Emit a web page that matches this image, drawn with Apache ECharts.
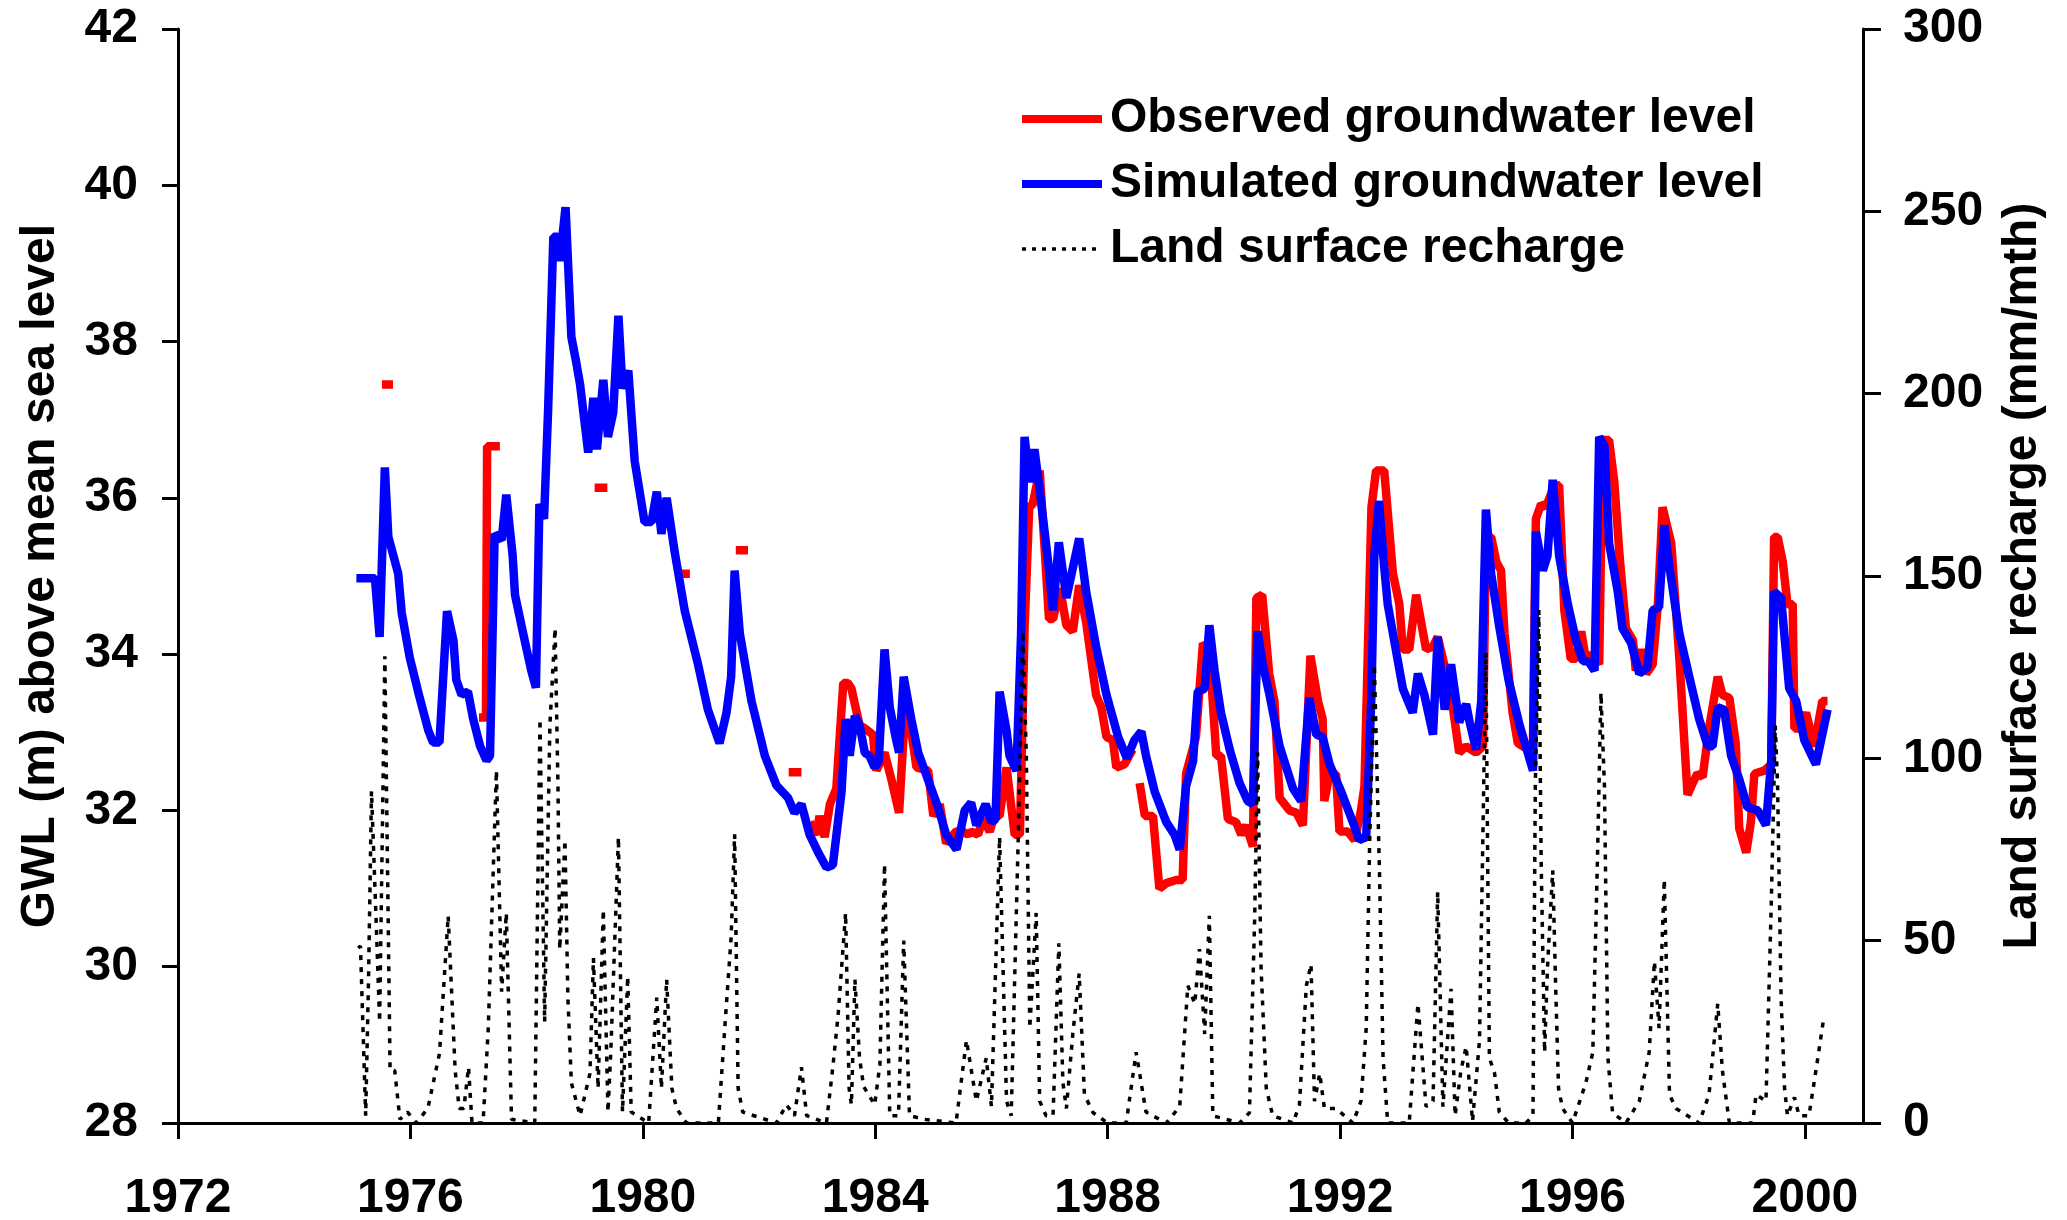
<!DOCTYPE html>
<html>
<head>
<meta charset="utf-8">
<title>Groundwater level and recharge</title>
<script src="https://cdn.jsdelivr.net/npm/echarts@6/dist/echarts.min.js"></script>
<style>
html,body{margin:0;padding:0;background:#fff}
#chart{width:2067px;height:1220px}
</style>
</head>
<body>
<div id="chart"></div>
<script>
// [decimal year, GWL m]
const simulated = [
    [1975.07,34.97],[1975.39,34.97],[1975.47,34.22],[1975.56,36.39],[1975.62,35.50],[1975.79,35.03],
    [1975.85,34.53],[1975.99,33.95],[1976.16,33.44],[1976.31,33.02],[1976.39,32.87],[1976.50,32.87],
    [1976.63,34.55],[1976.74,34.18],[1976.79,33.67],[1976.88,33.48],[1976.99,33.52],[1977.08,33.17],
    [1977.20,32.82],[1977.31,32.64],[1977.37,32.70],[1977.45,35.54],[1977.57,35.46],[1977.65,36.04],
    [1977.76,35.26],[1977.80,34.76],[1977.91,34.37],[1978.00,34.06],[1978.08,33.79],[1978.16,33.57],
    [1978.22,35.92],[1978.30,35.73],[1978.37,37.13],[1978.46,39.34],[1978.54,39.34],[1978.57,39.03],
    [1978.67,39.72],[1978.77,38.06],[1978.85,37.75],[1978.92,37.45],[1979.06,36.58],[1979.15,37.28],
    [1979.21,36.62],[1979.32,37.51],[1979.40,36.78],[1979.49,37.09],[1979.58,38.33],[1979.65,37.40],
    [1979.75,37.63],[1979.86,36.47],[1980.03,35.69],[1980.15,35.69],[1980.24,36.08],[1980.32,35.54],
    [1980.41,36.00],[1980.55,35.30],[1980.72,34.56],[1980.95,33.87],[1981.12,33.29],[1981.32,32.86],
    [1981.44,33.25],[1981.52,33.71],[1981.58,35.07],[1981.67,34.26],[1981.87,33.40],[1982.10,32.70],
    [1982.30,32.32],[1982.50,32.16],[1982.61,31.97],[1982.73,32.08],[1982.87,31.69],[1983.02,31.46],
    [1983.16,31.27],[1983.27,31.30],[1983.42,32.24],[1983.49,33.17],[1983.56,32.70],[1983.65,33.21],
    [1983.73,33.09],[1983.82,32.74],[1983.90,32.70],[1983.99,32.55],[1984.06,32.63],[1984.16,34.06],
    [1984.25,33.32],[1984.35,32.94],[1984.41,32.74],[1984.49,33.71],[1984.62,33.17],[1984.74,32.74],
    [1984.91,32.39],[1985.08,32.04],[1985.22,31.69],[1985.40,31.50],[1985.54,32.00],[1985.65,32.10],
    [1985.74,31.81],[1985.90,32.08],[1986.00,31.85],[1986.07,31.89],[1986.14,33.52],[1986.26,33.02],
    [1986.31,32.70],[1986.43,32.51],[1986.51,34.26],[1986.57,36.78],[1986.66,36.20],[1986.74,36.62],
    [1986.83,36.10],[1986.97,35.22],[1987.06,34.56],[1987.16,35.43],[1987.29,34.72],[1987.51,35.48],
    [1987.63,34.80],[1987.80,34.10],[1987.98,33.48],[1988.18,32.94],[1988.33,32.67],[1988.46,32.90],
    [1988.58,33.01],[1988.66,32.70],[1988.81,32.24],[1989.01,31.85],[1989.15,31.69],[1989.24,31.50],
    [1989.35,32.31],[1989.47,32.63],[1989.55,33.52],[1989.67,33.56],[1989.75,34.37],[1989.84,33.79],
    [1989.95,33.25],[1990.10,32.78],[1990.27,32.35],[1990.41,32.12],[1990.50,32.08],[1990.58,34.29],
    [1990.67,33.87],[1990.78,33.50],[1990.96,32.82],[1991.19,32.28],[1991.33,32.12],[1991.47,33.44],
    [1991.59,32.97],[1991.70,32.94],[1991.82,32.59],[1992.02,32.24],[1992.22,31.85],[1992.33,31.62],
    [1992.45,31.66],[1992.54,33.48],[1992.59,35.26],[1992.67,35.96],[1992.76,35.11],[1992.82,34.64],
    [1992.94,34.14],[1993.08,33.56],[1993.25,33.25],[1993.34,33.75],[1993.45,33.48],[1993.60,32.97],
    [1993.68,34.22],[1993.80,33.29],[1993.91,33.87],[1994.05,33.13],[1994.17,33.36],[1994.23,33.13],
    [1994.34,32.78],[1994.43,33.40],[1994.51,35.85],[1994.60,35.03],[1994.74,34.35],[1994.90,33.67],
    [1995.09,33.09],[1995.32,32.51],[1995.37,35.57],[1995.49,35.07],[1995.57,35.26],[1995.66,36.23],
    [1995.77,35.26],[1995.92,34.64],[1996.06,34.18],[1996.18,33.91],[1996.27,33.91],[1996.38,33.79],
    [1996.46,36.78],[1996.55,36.66],[1996.63,35.42],[1996.78,34.80],[1996.86,34.33],[1997.01,34.14],
    [1997.15,33.75],[1997.29,33.83],[1997.38,34.56],[1997.49,34.60],[1997.58,35.65],[1997.67,35.11],
    [1997.84,34.26],[1998.01,33.71],[1998.18,33.17],[1998.33,32.82],[1998.41,32.82],[1998.50,33.32],
    [1998.61,33.29],[1998.73,32.70],[1998.87,32.40],[1999.01,32.04],[1999.19,32.00],[1999.33,31.81],
    [1999.42,32.63],[1999.47,34.80],[1999.59,34.72],[1999.73,33.56],[1999.85,33.40],[1999.99,32.90],
    [2000.19,32.59],[2000.39,33.29]
]

// early observations are short isolated pieces
const observedEarly = [
    [[1975.51,37.45],[1975.70,37.45]],
    [[1977.18,33.19],[1977.30,33.19],[1977.32,36.66],[1977.54,36.66]],
    [[1979.17,36.13],[1979.39,36.13]],
    [[1980.67,35.03],[1980.81,35.03]],
    [[1981.60,35.33],[1981.81,35.33]],
    [[1982.51,32.49],[1982.73,32.49]]
]

const observedA = [
    [1982.87,31.85],[1982.99,31.69],[1983.04,31.93],[1983.13,31.66],[1983.22,32.08],[1983.33,32.28],
    [1983.45,33.63],[1983.53,33.63],[1983.59,33.56],[1983.73,33.09],[1983.82,33.05],[1983.96,32.97],
    [1984.02,32.51],[1984.16,32.74],[1984.28,32.39],[1984.41,31.97],[1984.51,33.25],[1984.62,33.01],
    [1984.71,32.55],[1984.91,32.51],[1985.00,31.93],[1985.11,32.08],[1985.22,31.58],[1985.39,31.73],
    [1985.51,31.73],[1985.60,31.69],[1985.65,31.73],[1985.77,31.69],[1985.85,31.89],[1985.97,31.73],
    [1986.05,31.93],[1986.14,31.93],[1986.26,32.55],[1986.40,31.69],[1986.49,31.69],[1986.57,34.33],
    [1986.65,35.88],[1986.71,35.92],[1986.83,36.35],[1986.92,35.30],[1986.99,34.45],[1987.06,34.45],
    [1987.18,34.84],[1987.29,34.37],[1987.40,34.29],[1987.51,34.88],[1987.63,34.41],[1987.80,33.48],
    [1987.89,33.32],[1987.98,32.94],[1988.09,32.90],[1988.15,32.55],[1988.29,32.59],[1988.43,32.78]
]

const observedB = [
    [1988.55,32.35],[1988.64,31.93],[1988.78,31.93],[1988.89,31.00],[1989.01,31.07],[1989.18,31.11],
    [1989.29,31.11],[1989.35,32.47],[1989.52,32.94],[1989.64,34.14],[1989.75,34.06],[1989.87,32.70],
    [1989.95,32.70],[1990.07,31.89],[1990.21,31.85],[1990.30,31.69],[1990.38,31.81],[1990.50,31.54],
    [1990.56,34.72],[1990.66,34.76],[1990.78,33.75],[1990.87,33.40],[1990.96,32.16],[1991.13,32.00],
    [1991.25,31.97],[1991.36,31.81],[1991.49,33.98],[1991.62,33.40],[1991.70,33.17],[1991.73,32.12],
    [1991.82,32.47],[1991.93,32.47],[1991.99,31.73],[1992.13,31.73],[1992.25,31.62],[1992.36,32.00],
    [1992.42,32.31],[1992.54,35.88],[1992.62,36.35],[1992.76,36.35],[1992.91,35.03],[1993.02,34.64],
    [1993.08,34.06],[1993.19,34.06],[1993.31,34.76],[1993.48,34.06],[1993.60,34.10],[1993.68,34.22],
    [1993.77,33.94],[1993.91,33.48],[1994.05,32.74],[1994.17,32.82],[1994.34,32.74],[1994.46,32.82],
    [1994.51,35.50],[1994.60,35.50],[1994.69,35.18],[1994.77,35.07],[1994.83,34.26],[1994.97,33.25],
    [1995.06,32.86],[1995.23,32.78],[1995.32,32.86],[1995.37,35.73],[1995.46,35.92],[1995.54,35.88],
    [1995.69,36.16],[1995.77,36.16],[1995.86,34.56],[1995.97,33.94],[1996.06,33.94],[1996.15,34.29],
    [1996.23,33.94],[1996.32,34.00],[1996.46,33.87],[1996.52,36.74],[1996.63,36.74],[1996.72,36.20],
    [1996.81,35.26],[1996.92,34.33],[1997.04,34.18],[1997.09,33.79],[1997.18,34.06],[1997.27,33.75],
    [1997.38,33.87],[1997.47,34.64],[1997.55,35.88],[1997.70,35.42],[1997.84,33.94],[1997.98,32.20],
    [1998.07,32.35],[1998.15,32.47],[1998.24,32.43],[1998.35,33.05],[1998.50,33.71],[1998.58,33.48],
    [1998.70,33.44],[1998.81,32.86],[1998.87,31.77],[1998.99,31.46],[1999.07,31.85],[1999.13,32.47],
    [1999.30,32.51],[1999.42,32.59],[1999.47,35.50],[1999.53,35.50],[1999.62,35.18],[1999.70,34.64],
    [1999.79,34.64],[1999.82,33.05],[1999.90,33.05],[2000.02,33.25],[2000.16,32.82],[2000.30,33.40],
    [2000.39,33.40]
]

// [decimal year, recharge mm/mth]
const recharge = [
    [1975.10,48],[1975.14,48.5],[1975.23,2],[1975.28,40],[1975.33,91],[1975.40,60],[1975.47,27.7],
    [1975.56,128],[1975.65,14.4],[1975.73,14.4],[1975.82,1],[1975.95,3],[1976.10,0],[1976.30,4],
    [1976.50,19],[1976.65,56.8],[1976.77,14.4],[1976.84,4],[1976.92,4],[1977.00,15.3],[1977.06,0],
    [1977.25,0],[1977.34,26],[1977.48,96.7],[1977.57,36],[1977.65,57.6],[1977.74,1],[1978.14,0],
    [1978.23,110.8],[1978.31,27.7],[1978.40,109],[1978.49,135.7],[1978.54,92],[1978.57,47.6],
    [1978.66,77.6],[1978.71,34.4],[1978.77,11],[1978.92,2],[1979.09,13.6],[1979.15,45.2],[1979.23,9.5],
    [1979.32,58.5],[1979.40,3],[1979.45,20],[1979.58,78.4],[1979.65,3],[1979.74,40.2],[1979.80,3],
    [1980.10,0],[1980.24,34.4],[1980.32,9.5],[1980.41,39.4],[1980.50,9.5],[1980.58,4],[1980.75,0],
    [1981.30,0],[1981.41,26],[1981.52,51],[1981.58,79.2],[1981.64,9.5],[1981.72,3],[1982.30,0],
    [1982.47,5],[1982.61,2],[1982.73,15.3],[1982.82,2],[1983.16,0],[1983.27,15.3],[1983.36,29.4],
    [1983.49,57.6],[1983.55,9.5],[1983.59,5],[1983.65,39.4],[1983.73,17.8],[1983.80,10],[1983.99,5],
    [1984.08,16],[1984.16,71],[1984.25,2],[1984.40,2],[1984.49,50],[1984.59,2],[1984.85,1],
    [1985.39,0],[1985.57,22.7],[1985.74,6],[1985.91,17.8],[1986.00,4.5],[1986.14,78.4],[1986.26,6],
    [1986.34,2],[1986.46,77.5],[1986.54,134.9],[1986.60,100.8],[1986.66,26],[1986.77,57.6],
    [1986.83,6],[1986.94,2],[1987.06,2],[1987.16,49.3],[1987.23,11],[1987.29,4],[1987.40,24.4],
    [1987.51,41],[1987.60,7.8],[1987.75,2.8],[1988.00,0],[1988.32,0],[1988.49,19.4],[1988.66,3],
    [1989.01,0],[1989.24,4.5],[1989.38,37.7],[1989.50,32.7],[1989.58,47.7],[1989.67,24.4],
    [1989.75,56.8],[1989.81,2],[1990.27,0],[1990.44,2.8],[1990.53,56],[1990.58,101.6],[1990.64,42.7],
    [1990.73,9.5],[1990.84,2],[1991.19,0],[1991.30,5],[1991.42,37.7],[1991.50,43.5],[1991.56,6],
    [1991.65,13.6],[1991.73,4],[1991.93,4],[1992.22,0],[1992.36,6],[1992.45,26],[1992.51,77.5],
    [1992.59,125.7],[1992.68,67.6],[1992.74,17.8],[1992.82,0],[1993.19,0],[1993.34,32.7],
    [1993.48,4.5],[1993.60,6],[1993.68,63.4],[1993.77,4.5],[1993.91,36.8],[1993.98,2],[1994.08,14.4],
    [1994.17,21],[1994.28,0.5],[1994.40,22.7],[1994.51,129],[1994.57,17.8],[1994.66,13.6],
    [1994.74,3],[1994.90,0],[1995.20,0],[1995.32,2],[1995.36,92.5],[1995.42,140.7],[1995.46,72.6],
    [1995.52,19.4],[1995.57,42.7],[1995.66,69.3],[1995.71,37.7],[1995.76,9.5],[1995.83,4],
    [1996.00,0],[1996.23,11],[1996.35,19.4],[1996.43,72.6],[1996.49,118],[1996.55,92.5],
    [1996.61,17.8],[1996.69,2.8],[1996.92,0],[1997.15,6],[1997.32,19.4],[1997.41,44.3],[1997.49,26],
    [1997.58,66.8],[1997.67,7.8],[1997.78,4],[1998.18,0],[1998.35,7.8],[1998.50,32.7],[1998.58,14.4],
    [1998.70,0],[1999.10,0],[1999.16,7.8],[1999.33,6],[1999.42,59.3],[1999.49,109],[1999.53,92.5],
    [1999.59,34.4],[1999.65,9.5],[1999.70,2],[1999.82,7],[1999.90,2],[2000.07,2],[2000.19,14.4],
    [2000.33,29.4]
]

const yearTicks = [1972, 1976, 1980, 1984, 1988, 1992, 1996, 2000]

// join observed pieces, null breaks the line
let observed = []
observedEarly.concat([observedA, observedB]).forEach(function (seg) {
    seg.forEach(function (p) { observed.push(p) })
    observed.push([seg[seg.length - 1][0] + 0.01, null])
})

const font = 'Liberation Sans'
const labelStyle = {color: '#000', fontSize: 48, fontWeight: 'bold', fontFamily: font}
const axisLine = {show: true, lineStyle: {color: '#000', width: 3}}

let chart = echarts.init(document.getElementById('chart'))
let option = {
    animation: false,
    backgroundColor: '#fff',
    grid: {left: 178, right: 204, top: 29, bottom: 97, outerBoundsMode: 'none'},
    legend: {
        orient: 'vertical',
        left: 1013,
        top: 90,
        itemWidth: 80,
        itemHeight: 14,
        itemGap: 17,
        align: 'left',
        selectedMode: false,
        itemStyle: {opacity: 0},
        textStyle: {color: '#000', fontSize: 48, fontWeight: 'bold', fontFamily: font, padding: [0, 0, 0, 3]},
        data: [
            {name: 'Observed groundwater level', lineStyle: {width: 8, color: '#ff0000'}},
            {name: 'Simulated groundwater level', lineStyle: {width: 8, color: '#0000ff'}},
            {name: 'Land surface recharge', lineStyle: {width: 3.5, type: [4, 6]}}
        ]
    },
    xAxis: {
        type: 'value',
        min: 1972,
        max: 2001,
        interval: 4,
        axisLine: axisLine,
        axisTick: {show: true, inside: false, length: 16, lineStyle: {width: 3, color: '#000'}, customValues: yearTicks},
        axisLabel: Object.assign({
            margin: 52,
            customValues: yearTicks,
            formatter: function (v) { return String(v) }
        }, labelStyle),
        splitLine: {show: false}
    },
    yAxis: [{
        type: 'value',
        min: 28,
        max: 42,
        interval: 2,
        name: 'GWL (m) above mean sea level',
        nameLocation: 'middle',
        nameRotate: 90,
        nameGap: 113,
        nameTextStyle: labelStyle,
        axisLine: axisLine,
        axisTick: {show: true, length: 16, lineStyle: {width: 3, color: '#000'}},
        axisLabel: Object.assign({margin: 40}, labelStyle),
        splitLine: {show: false}
    }, {
        type: 'value',
        min: 0,
        max: 300,
        interval: 50,
        position: 'right',
        name: 'Land surface recharge (mm/mth)',
        nameLocation: 'middle',
        nameRotate: 90,
        nameGap: 136,
        nameTextStyle: labelStyle,
        axisLine: axisLine,
        axisTick: {show: true, length: 18, lineStyle: {width: 3, color: '#000'}},
        axisLabel: Object.assign({margin: 40}, labelStyle),
        splitLine: {show: false}
    }],
    series: [{
        name: 'Observed groundwater level',
        type: 'line',
        data: observed,
        symbol: 'none',
        connectNulls: false,
        color: '#ff0000',
        lineStyle: {color: '#ff0000', width: 8.5}
    }, {
        name: 'Simulated groundwater level',
        type: 'line',
        data: simulated,
        symbol: 'none',
        color: '#0000ff',
        lineStyle: {color: '#0000ff', width: 8.5}
    }, {
        name: 'Land surface recharge',
        type: 'line',
        yAxisIndex: 1,
        data: recharge,
        symbol: 'none',
        color: '#000',
        lineStyle: {color: '#000', width: 3.5, type: [5, 7]}
    }]
}
chart.setOption(option)
</script>
</body>
</html>
